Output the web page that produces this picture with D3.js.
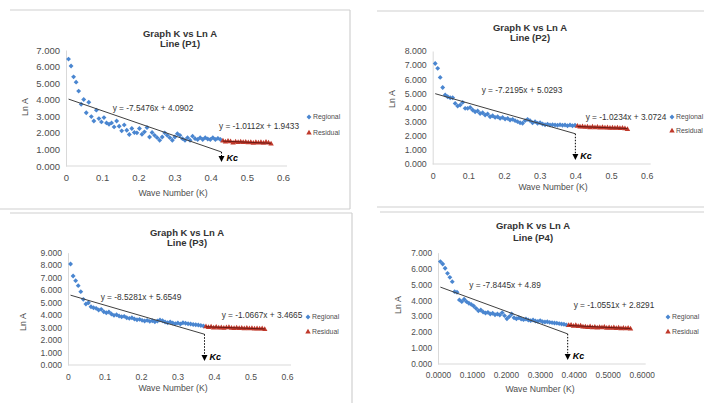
<!DOCTYPE html>
<html>
<head>
<meta charset="utf-8">
<script src="https://cdn.jsdelivr.net/npm/d3@7"></script>
<style>
  body { margin: 0; background: #fff; }
  svg { display: block; font-family: "Liberation Sans", Arial, sans-serif; }
</style>
</head>
<body>
<div id="chart"></div>
<script>
// wave number (K) shared by all four lines
const kValues = [
  0.007, 0.014, 0.021, 0.028, 0.035, 0.042, 0.049, 0.056, 0.063, 0.070,
  0.077, 0.084, 0.091, 0.098, 0.105, 0.112, 0.119, 0.126, 0.133, 0.140,
  0.147, 0.154, 0.161, 0.168, 0.175, 0.182, 0.189, 0.196, 0.203, 0.210,
  0.217, 0.224, 0.231, 0.238, 0.245, 0.252, 0.259, 0.266, 0.273, 0.280,
  0.287, 0.294, 0.301, 0.308, 0.315, 0.322, 0.329, 0.336, 0.343, 0.350,
  0.357, 0.364, 0.371, 0.378, 0.385, 0.392, 0.399, 0.406, 0.413, 0.420,
  0.427, 0.434, 0.441, 0.448, 0.455, 0.462, 0.469, 0.476, 0.483, 0.490,
  0.497, 0.504, 0.511, 0.518, 0.525, 0.532, 0.539, 0.546, 0.553, 0.560,
  0.567
];

const panelNames = ['P1', 'P2', 'P3', 'P4'];

// Ln A, regional part (first points of kValues)
const regionalP1 = [6.45, 6.03, 5.38, 5.06, 4.52, 3.73, 4.01, 3.21, 3.85, 2.98,
  2.72, 3.37, 2.86, 2.66, 2.92, 2.60, 2.52, 2.60, 2.36, 2.72,
  2.40, 2.12, 2.48, 2.16, 1.90, 2.26, 2.02, 2.00, 2.26, 1.92,
  2.06, 2.32, 1.75, 2.02, 1.85, 1.71, 1.55, 1.75, 2.00, 1.85,
  1.71, 1.55, 1.75, 1.95, 1.85, 1.65, 1.55, 1.71, 1.55, 1.80,
  1.65, 1.60, 1.71, 1.60, 1.71, 1.63, 1.60, 1.71, 1.60, 1.67, 1.60];
const regionalP2 = [7.12, 6.77, 6.13, 5.42, 4.88, 4.76, 4.69, 4.69, 4.29, 4.10,
  4.17, 4.36, 3.94, 3.94, 4.00, 3.82, 3.70, 3.75, 3.58, 3.63,
  3.47, 3.54, 3.35, 3.42, 3.30, 3.35, 3.23, 3.30, 3.18, 3.23,
  3.11, 3.16, 3.07, 3.00, 2.92, 2.88, 3.07, 3.16, 3.07, 2.92,
  3.00, 2.88, 2.92, 2.83, 2.78, 2.81, 2.76, 2.78, 2.76, 2.74,
  2.78, 2.74, 2.76, 2.71, 2.76, 2.71, 2.74];
const regionalP3 = [8.09, 7.13, 6.76, 6.36, 5.88, 5.26, 4.89, 4.99, 4.67, 4.59,
  4.54, 4.41, 4.46, 4.27, 4.19, 4.25, 4.09, 3.98, 4.03, 3.93,
  3.87, 3.90, 3.79, 3.74, 3.79, 3.69, 3.63, 3.66, 3.58, 3.53,
  3.58, 3.50, 3.55, 3.47, 3.53, 3.61, 3.55, 3.45, 3.39, 3.45,
  3.37, 3.31, 3.37, 3.29, 3.39, 3.34, 3.31, 3.29, 3.25, 3.22,
  3.20, 3.16, 3.12];
const regionalP4 = [6.44, 6.29, 6.02, 5.70, 5.45, 5.18, 4.55, 4.51, 4.03, 3.92,
  4.07, 3.92, 3.82, 3.75, 3.65, 3.50, 3.35, 3.40, 3.27, 3.21,
  3.25, 3.14, 3.19, 3.10, 3.14, 3.08, 3.23, 3.04, 2.85, 2.98,
  3.14, 2.91, 2.85, 2.91, 2.83, 2.79, 2.83, 2.77, 2.73, 2.77,
  2.70, 2.68, 2.73, 2.66, 2.64, 2.66, 2.62, 2.60, 2.58, 2.57,
  2.54, 2.52, 2.50, 2.46];

// Ln A, residual part (continues kValues after the regional points)
const residualP1 = [1.52, 1.45, 1.50, 1.47, 1.40, 1.46, 1.43, 1.45, 1.42, 1.44,
  1.41, 1.43, 1.38, 1.42, 1.40, 1.43, 1.38, 1.44, 1.40, 1.33];
const residualP2 = [2.68, 2.62, 2.65, 2.60, 2.63, 2.58, 2.62, 2.57, 2.60, 2.56,
  2.59, 2.55, 2.57, 2.54, 2.56, 2.53, 2.55, 2.52, 2.54, 2.50, 2.45];
const residualP3 = [3.08, 3.02, 3.05, 2.98, 3.03, 2.97, 3.00, 2.95, 2.99, 3.02,
  2.96, 2.94, 2.97, 2.93, 2.96, 2.92, 2.95, 2.91, 2.93, 2.90,
  2.92, 2.89, 2.91, 2.86];
const residualP4 = [2.42, 2.45, 2.38, 2.43, 2.36, 2.40, 2.34, 2.33, 2.30, 2.35,
  2.29, 2.32, 2.27, 2.30, 2.28, 2.31, 2.26, 2.29, 2.25, 2.28,
  2.24, 2.27, 2.23, 2.26, 2.22, 2.25, 2.20];

const regionalSeries = [regionalP1, regionalP2, regionalP3, regionalP4];
const residualSeries = [residualP1, residualP2, residualP3, residualP4];

// trendline equations shown on the charts
const regionalSlope = [-7.5476, -7.2195, -8.5281, -7.8445];
const regionalIntercept = [4.0902, 5.0293, 5.6549, 4.89];
const residualSlope = [-1.0112, -1.0234, -1.0667, -1.0551];
const residualIntercept = [1.9433, 3.0724, 3.4665, 2.8291];

const kcValues = [0.43, 0.40, 0.374, 0.382];
const yMaxValues = [7, 8, 9, 7];
const xTickValues = [0, 0.1, 0.2, 0.3, 0.4, 0.5, 0.6];
const xTickFormats = ['~g', '~g', '~g', '.4f'];

// where each chart sits in the picture
const layout = [
  { x: [66, 283], y: [166, 50], fs: 9.5, title: [180, 34, 44], lnA: [25, 107], xTitle: [173, 193],
    legend: [309, 117, 133], eq1: [153, 108], eq2: [259, 126],
    border: [[10, 10, 350, 10], [350, 10, 350, 209], [0, 209, 350, 209]] },
  { x: [432.7, 646.7], y: [164, 51], fs: 8.8, title: [530, 28, 38], lnA: [392, 99], xTitle: [553, 187],
    legend: [672, 117, 131], eq1: [522, 90], eq2: [626, 117],
    border: [[377, 11, 704, 11], [377, 207, 704, 207]] },
  { x: [68, 287], y: [365, 252.7], fs: 8.6, title: [187, 233, 243], lnA: [23, 322], xTitle: [173, 388],
    legend: [308, 317, 332], eq1: [141, 297], eq2: [262, 315],
    border: [[10, 213, 352, 213], [352, 213, 352, 403]] },
  { x: [438, 641.7], y: [364, 252.7], fs: 8.3, title: [533, 226, 238], lnA: [398, 305], xTitle: [540, 389],
    legend: [668, 317, 332], eq1: [505, 285], eq2: [614, 305],
    border: [[380, 212, 704, 212]] }
];

const blue = '#4a86d0';
const red = '#c0392b';
const grey = '#4d4d4d';

const svg = d3.select('#chart').append('svg')
  .attr('width', 704)
  .attr('height', 403);

const diamond = d3.symbol(d3.symbolSquare, 12);
const triangle = d3.symbol(d3.symbolTriangle, 13);

panelNames.forEach((name, i) => {
  const L = layout[i];
  const g = svg.append('g');

  L.border.forEach(b => {
    g.append('line')
      .attr('x1', b[0]).attr('y1', b[1]).attr('x2', b[2]).attr('y2', b[3])
      .attr('stroke', '#d0d0d0').attr('stroke-width', 1.2);
  });

  const x = d3.scaleLinear().domain([0, 0.6]).range(L.x);
  const y = d3.scaleLinear().domain([0, yMaxValues[i]]).range(L.y);

  // axes
  const yAxis = g.append('g')
    .attr('transform', 'translate(' + L.x[0] + ',0)')
    .call(d3.axisLeft(y).tickValues(d3.range(0, yMaxValues[i] + 1))
      .tickFormat(d3.format('.3f')).tickSize(0).tickPadding(6));
  yAxis.select('.domain').attr('stroke', '#d9d9d9');

  const xAxis = g.append('g')
    .attr('transform', 'translate(0,' + L.y[0] + ')')
    .call(d3.axisBottom(x).tickValues(xTickValues)
      .tickFormat(d3.format(xTickFormats[i])).tickSize(0).tickPadding(8.5));
  xAxis.select('.domain').remove();
  g.append('line')
    .attr('x1', L.x[0]).attr('x2', L.x[1] + 4)
    .attr('y1', L.y[0]).attr('y2', L.y[0])
    .attr('stroke', '#d9d9d9');

  g.selectAll('.tick text')
    .attr('fill', grey)
    .style('font-size', L.fs + 'px')
    .style('font-family', '"Liberation Sans", Arial, sans-serif');

  // titles
  g.append('text').attr('x', L.title[0]).attr('y', L.title[1]).attr('dy', '.35em')
    .attr('text-anchor', 'middle').attr('font-weight', 'bold').attr('font-size', 9.5)
    .attr('fill', '#333').text('Graph K vs Ln A');
  g.append('text').attr('x', L.title[0]).attr('y', L.title[2]).attr('dy', '.35em')
    .attr('text-anchor', 'middle').attr('font-weight', 'bold').attr('font-size', 9.5)
    .attr('fill', '#333').text('Line (' + name + ')');

  g.append('text').attr('x', L.xTitle[0]).attr('y', L.xTitle[1]).attr('dy', '.35em')
    .attr('text-anchor', 'middle').attr('font-size', 8.7).attr('fill', grey)
    .text('Wave Number (K)');
  g.append('text')
    .attr('transform', 'translate(' + L.lnA[0] + ',' + L.lnA[1] + ') rotate(-90)')
    .attr('dy', '.35em').attr('text-anchor', 'middle').attr('font-size', 8.9).attr('fill', grey)
    .text('Ln A');

  // data
  const reg = regionalSeries[i].map((v, j) => ({ k: kValues[j], v: v }));
  const res = residualSeries[i].map((v, j) => ({ k: kValues[regionalSeries[i].length + j], v: v }));
  const kc = kcValues[i];

  g.selectAll('.reg')
    .data(reg)
    .enter()
    .append('path')
    .attr('d', diamond)
    .attr('transform', d => 'translate(' + x(d.k) + ',' + y(d.v) + ') rotate(45)')
    .attr('fill', blue);

  g.selectAll('.res')
    .data(res)
    .enter()
    .append('path')
    .attr('d', triangle)
    .attr('transform', d => 'translate(' + x(d.k) + ',' + y(d.v) + ')')
    .attr('fill', red);

  // trendlines
  const line = d3.line().x(d => x(d.k)).y(d => y(d.v));
  const regFit = k => regionalSlope[i] * k + regionalIntercept[i];
  const resFit = k => residualSlope[i] * k + residualIntercept[i];
  const k0 = reg[0].k;
  g.append('path')
    .attr('d', line([{ k: k0, v: regFit(k0) }, { k: kc, v: regFit(kc) }]))
    .attr('stroke', '#404040').attr('stroke-width', 1).attr('fill', 'none');
  const r0 = res[0].k, r1 = res[res.length - 1].k;
  g.append('path')
    .attr('d', line([{ k: r0, v: resFit(r0) }, { k: r1, v: resFit(r1) }]))
    .attr('stroke', '#6b1a14').attr('stroke-width', 1).attr('fill', 'none');

  // Kc arrow
  const xk = x(kc);
  const y0 = L.y[0];
  g.append('line')
    .attr('x1', xk).attr('x2', xk)
    .attr('y1', y(regFit(kc))).attr('y2', y0 - 9)
    .attr('stroke', '#000').attr('stroke-width', 1).attr('stroke-dasharray', '1.5,1.5');
  g.append('path')
    .attr('d', 'M' + (xk - 3) + ',' + (y0 - 10) + 'L' + (xk + 3) + ',' + (y0 - 10) + 'L' + xk + ',' + (y0 - 4) + 'Z')
    .attr('fill', '#000');
  g.append('text').attr('x', xk + 5).attr('y', y0 - 8).attr('dy', '.35em')
    .attr('font-size', 9).attr('font-weight', 'bold').attr('font-style', 'italic')
    .attr('fill', '#000').text('Kc');

  // equations
  g.append('text').attr('x', L.eq1[0]).attr('y', L.eq1[1]).attr('dy', '.35em')
    .attr('text-anchor', 'middle').attr('font-size', 8.3).attr('fill', '#333')
    .text('y = ' + regionalSlope[i] + 'x + ' + regionalIntercept[i]);
  g.append('text').attr('x', L.eq2[0]).attr('y', L.eq2[1]).attr('dy', '.35em')
    .attr('text-anchor', 'middle').attr('font-size', 8.3).attr('fill', '#333')
    .text('y = ' + residualSlope[i] + 'x + ' + residualIntercept[i]);

  // legend
  const lg = g.append('g');
  lg.append('path').attr('d', diamond)
    .attr('transform', 'translate(' + L.legend[0] + ',' + L.legend[1] + ') rotate(45)')
    .attr('fill', blue);
  lg.append('text').attr('x', L.legend[0] + 4).attr('y', L.legend[1]).attr('dy', '.35em')
    .attr('font-size', 6.9).attr('fill', grey).text('Regional');
  lg.append('path').attr('d', triangle)
    .attr('transform', 'translate(' + L.legend[0] + ',' + L.legend[2] + ')')
    .attr('fill', red);
  lg.append('text').attr('x', L.legend[0] + 4).attr('y', L.legend[2]).attr('dy', '.35em')
    .attr('font-size', 6.9).attr('fill', grey).text('Residual');
});
</script>
</body>
</html>
